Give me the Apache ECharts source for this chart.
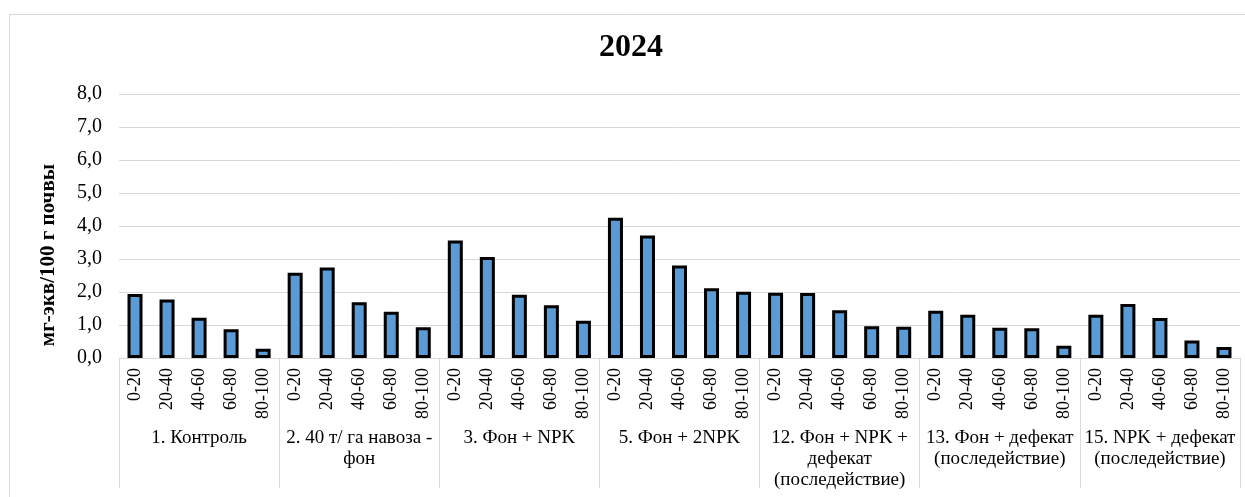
<!DOCTYPE html>
<html>
<head>
<meta charset="utf-8">
<script src="https://cdn.jsdelivr.net/npm/echarts@6/dist/echarts.min.js"></script>
<style>
html,body{margin:0;padding:0;background:#fff;}
#chart{width:1245px;height:497px;}
</style>
</head>
<body>
<div id="chart"></div>
<script>
// ---- data ----
const depths = ['0-20', '20-40', '40-60', '60-80', '80-100'];
const groups = [
  '1. Контроль',
  '2. 40 т/ га навоза -\nфон',
  '3. Фон + NPK',
  '5. Фон + 2NPK',
  '12. Фон + NPK +\nдефекат\n(последействие)',
  '13. Фон + дефекат\n(последействие)',
  '15. NPK + дефекат\n(последействие)'
];
const g1 = [1.94, 1.77, 1.22, 0.87, 0.28];
const g2 = [2.58, 2.74, 1.69, 1.40, 0.93];
const g3 = [3.56, 3.06, 1.92, 1.60, 1.13];
const g5 = [4.25, 3.71, 2.80, 2.11, 2.01];
const g12 = [1.98, 1.97, 1.45, 0.96, 0.95];
const g13 = [1.43, 1.31, 0.92, 0.90, 0.37];
const g15 = [1.31, 1.64, 1.21, 0.53, 0.33];
const title = '2024';
const yTitle = 'мг-экв/100 г почвы';

// ---- build ----
const groupValues = [g1, g2, g3, g5, g12, g13, g15];
const categories = [];
const values = [];
groupValues.forEach(function (arr) {
  arr.forEach(function (v, i) { categories.push(depths[i]); values.push(v); });
});

const serif = '"Liberation Serif", "Times New Roman", serif';
const chart = echarts.init(document.getElementById('chart'), null, {renderer: 'canvas'});
chart.setOption({
  animation: false,
  backgroundColor: '#fff',
  grid: {left: 119, right: 5, top: 94, bottom: 139, containLabel: false},
  graphic: [
    {type: 'rect', left: 7, top: 12, shape: {x: 0, y: 0, width: 1260, height: 520},
     style: {fill: 'none', stroke: '#d9d9d9', lineWidth: 1}, silent: true, z: -1},
    {type: 'text', x: 631, y: 48,
     style: {text: title, font: 'bold 32px ' + serif, fill: '#000', align: 'center', verticalAlign: 'middle'}},
    {type: 'text', x: 49, y: 255, rotation: Math.PI / 2,
     style: {text: yTitle, font: 'bold 21px ' + serif, fill: '#000', align: 'center', verticalAlign: 'middle'}}
  ],
  xAxis: [
    {
      type: 'category', data: categories, position: 'bottom',
      axisLine: {show: true, lineStyle: {color: '#d9d9d9', width: 1}},
      axisTick: {show: false},
      splitLine: {show: false},
      axisLabel: {interval: 0, rotate: 90, margin: 10, color: '#000',
                  fontFamily: serif, fontSize: 18}
    },
    {
      type: 'category', data: groups, position: 'bottom', boundaryGap: true,
      axisLine: {show: false},
      axisTick: {show: true, length: 130, interval: 0, lineStyle: {color: '#d9d9d9', width: 1}},
      splitLine: {show: false},
      axisLabel: {interval: 0, margin: 70, color: '#000', fontFamily: serif, fontSize: 19,
                  lineHeight: 21, align: 'center', hideOverlap: false}
    }
  ],
  yAxis: {
    type: 'value', min: 0, max: 8, interval: 1,
    axisLine: {show: false}, axisTick: {show: false},
    splitLine: {show: true, lineStyle: {color: '#d9d9d9', width: 1}},
    axisLabel: {margin: 17, color: '#000', fontFamily: serif, fontSize: 20,
                formatter: function (v) { return v.toFixed(1).replace('.', ','); }}
  },
  series: [{
    type: 'bar', xAxisIndex: 0, data: values, barWidth: 15,
    itemStyle: {color: '#5b9bd5', borderColor: '#000', borderWidth: 3},
    emphasis: {disabled: true}
  }]
});
</script>
</body>
</html>
